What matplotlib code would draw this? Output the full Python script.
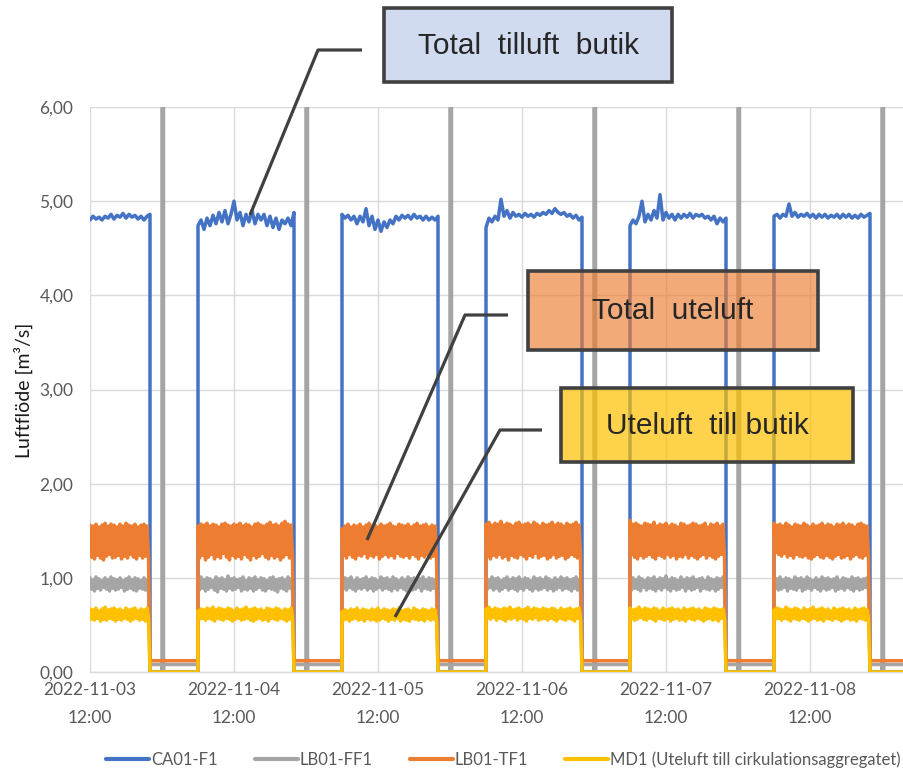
import matplotlib
matplotlib.use("Agg")
import matplotlib.pyplot as plt
import matplotlib.dates as mdates
from matplotlib.patches import Rectangle
from matplotlib.lines import Line2D
from matplotlib.colors import to_rgba
from matplotlib.ticker import FuncFormatter
import pandas as pd

# ---------------------------------------------------------------- data
# Operating periods: the record starts 2022-11-03 12:00, then 06:00-22:00 every day
DAY_STARTS = ["2022-11-03 12:00", "2022-11-04 06:00", "2022-11-05 06:00",
              "2022-11-06 06:00", "2022-11-07 06:00", "2022-11-08 06:00"]
DAY_STOP_HOUR = 22
RECORD_END = "2022-11-09 03:40"
SAMPLE_MINUTES = 30

SERIES_NAMES = ["CA01-F1", "LB01-FF1", "LB01-TF1",
                "MD1 (Uteluft till cirkulationsaggregatet)"]

# CA01-F1 – total tilluft butik [m3/s], one reading every 30 min (06:00..22:00)
ca01_f1 = [
    [4.80, 4.84, 4.81, 4.83, 4.80, 4.84, 4.82, 4.86, 4.81, 4.85, 4.83, 4.87, 4.82, 4.86,
     4.83, 4.85, 4.81, 4.84, 4.80, 4.84, 4.86],
    [4.74, 4.80, 4.70, 4.82, 4.74, 4.85, 4.76, 4.88, 4.78, 4.90, 4.76, 4.86, 5.00, 4.80,
     4.88, 4.74, 4.86, 4.78, 4.90, 4.76, 4.86, 4.80, 4.86, 4.74, 4.84, 4.72, 4.82, 4.70,
     4.80, 4.76, 4.82, 4.74, 4.88],
    [4.86, 4.82, 4.85, 4.80, 4.84, 4.76, 4.84, 4.78, 4.92, 4.74, 4.84, 4.70, 4.80, 4.68,
     4.78, 4.72, 4.80, 4.76, 4.84, 4.80, 4.85, 4.82, 4.85, 4.81, 4.86, 4.82, 4.84, 4.80,
     4.84, 4.80, 4.83, 4.80, 4.84],
    [4.72, 4.82, 4.78, 4.84, 4.80, 5.02, 4.84, 4.90, 4.82, 4.88, 4.84, 4.86, 4.83, 4.87,
     4.84, 4.86, 4.83, 4.87, 4.85, 4.88, 4.86, 4.90, 4.87, 4.92, 4.88, 4.86, 4.88, 4.84,
     4.86, 4.82, 4.85, 4.80, 4.83],
    [4.74, 4.80, 4.76, 4.84, 5.00, 4.78, 4.86, 4.80, 4.90, 4.82, 5.07, 4.80, 4.88, 4.82,
     4.86, 4.80, 4.86, 4.82, 4.86, 4.83, 4.87, 4.82, 4.86, 4.84, 4.86, 4.82, 4.84, 4.80,
     4.84, 4.76, 4.82, 4.78, 4.82],
    [4.84, 4.86, 4.82, 4.86, 4.84, 4.97, 4.84, 4.88, 4.83, 4.86, 4.84, 4.87, 4.83, 4.86,
     4.82, 4.86, 4.83, 4.86, 4.82, 4.85, 4.83, 4.86, 4.82, 4.86, 4.83, 4.86, 4.82, 4.85,
     4.82, 4.86, 4.83, 4.85, 4.87],
]

# The other three flows fluctuate fast: highest and lowest reading per 30-min window.
# LB01-FF1 [m3/s]
lb01_ff1_high = [
    [1.00, 0.98, 1.01, 0.99, 0.97, 1.00, 0.98, 1.01, 0.99, 0.98, 1.00, 0.97, 0.99, 1.01,
     0.98, 1.00, 0.99, 0.97, 1.00, 0.98],
    [0.99, 1.01, 0.98, 1.00, 0.99, 0.97, 1.01, 0.99, 1.00, 0.98, 1.02, 0.99, 1.00, 0.98,
     0.99, 1.01, 0.97, 1.00, 0.99, 1.01, 0.98, 1.00, 0.99, 0.97, 1.00, 1.01, 0.98, 0.99,
     1.00, 0.98, 1.01, 0.99],
    [0.98, 1.00, 0.99, 1.01, 0.97, 1.00, 0.98, 0.99, 1.01, 0.98, 1.00, 0.99, 0.97, 1.01,
     0.99, 1.00, 0.98, 1.01, 0.99, 0.97, 1.00, 0.98, 1.01, 0.99, 1.00, 0.98, 0.99, 1.01,
     0.98, 1.00, 0.99, 0.98],
    [1.00, 0.98, 1.01, 0.99, 1.00, 0.97, 0.99, 1.01, 0.98, 1.00, 0.99, 1.01, 0.98, 1.00,
     0.99, 0.97, 1.01, 0.99, 1.00, 0.98, 1.01, 0.99, 0.97, 1.00, 0.98, 1.01, 0.99, 1.00,
     0.98, 0.99, 1.01, 0.98],
    [0.99, 1.00, 0.98, 1.01, 0.99, 0.97, 1.00, 0.99, 1.01, 0.98, 1.00, 0.99, 1.02, 0.98,
     1.00, 0.99, 0.97, 1.01, 0.98, 1.00, 0.99, 1.01, 0.98, 0.99, 1.00, 0.97, 1.01, 0.99,
     0.98, 1.00, 0.99, 1.01],
    [1.00, 0.99, 1.01, 0.98, 1.00, 0.99, 0.97, 1.01, 0.99, 1.00, 0.98, 1.01, 0.99, 0.97,
     1.00, 0.98, 1.01, 0.99, 1.00, 0.98, 0.99, 1.01, 0.97, 1.00, 0.99, 0.98, 1.01, 0.99,
     1.00, 0.98, 0.99, 1.00],
]
lb01_ff1_low = [
    [0.88, 0.86, 0.89, 0.87, 0.90, 0.88, 0.86, 0.89, 0.87, 0.88, 0.90, 0.86, 0.88, 0.89,
     0.87, 0.86, 0.89, 0.88, 0.87, 0.90],
    [0.87, 0.89, 0.86, 0.88, 0.90, 0.87, 0.85, 0.89, 0.88, 0.86, 0.89, 0.87, 0.88, 0.90,
     0.86, 0.88, 0.87, 0.89, 0.86, 0.88, 0.90, 0.87, 0.86, 0.89, 0.88, 0.87, 0.85, 0.89,
     0.88, 0.86, 0.89, 0.87],
    [0.89, 0.87, 0.90, 0.88, 0.86, 0.89, 0.88, 0.90, 0.87, 0.89, 0.86, 0.88, 0.90, 0.87,
     0.89, 0.88, 0.86, 0.89, 0.87, 0.90, 0.88, 0.86, 0.89, 0.87, 0.88, 0.90, 0.86, 0.89,
     0.88, 0.87, 0.89, 0.88],
    [0.88, 0.90, 0.87, 0.89, 0.86, 0.88, 0.90, 0.87, 0.89, 0.88, 0.86, 0.89, 0.87, 0.90,
     0.88, 0.86, 0.89, 0.87, 0.88, 0.90, 0.87, 0.89, 0.86, 0.88, 0.90, 0.87, 0.89, 0.88,
     0.86, 0.89, 0.87, 0.88],
    [0.87, 0.89, 0.88, 0.86, 0.90, 0.87, 0.89, 0.88, 0.86, 0.89, 0.87, 0.90, 0.88, 0.86,
     0.89, 0.87, 0.88, 0.90, 0.86, 0.89, 0.87, 0.88, 0.90, 0.86, 0.89, 0.88, 0.87, 0.89,
     0.86, 0.88, 0.90, 0.87],
    [0.89, 0.87, 0.88, 0.90, 0.86, 0.89, 0.88, 0.87, 0.90, 0.86, 0.88, 0.89, 0.87, 0.90,
     0.88, 0.86, 0.89, 0.87, 0.88, 0.90, 0.86, 0.88, 0.89, 0.87, 0.90, 0.88, 0.86, 0.89,
     0.87, 0.88, 0.90, 0.87],
]

# LB01-TF1 – total uteluft [m3/s]
lb01_tf1_high = [
    [1.56, 1.55, 1.57, 1.54, 1.56, 1.58, 1.55, 1.57, 1.56, 1.54, 1.57, 1.55, 1.58, 1.56,
     1.55, 1.57, 1.54, 1.56, 1.57, 1.55],
    [1.55, 1.57, 1.56, 1.58, 1.55, 1.57, 1.56, 1.54, 1.57, 1.58, 1.56, 1.55, 1.57, 1.56,
     1.58, 1.55, 1.57, 1.56, 1.54, 1.57, 1.58, 1.56, 1.55, 1.57, 1.59, 1.56, 1.57, 1.55,
     1.58, 1.60, 1.57, 1.56],
    [1.52, 1.55, 1.57, 1.54, 1.56, 1.55, 1.57, 1.54, 1.56, 1.58, 1.55, 1.56, 1.54, 1.57,
     1.55, 1.56, 1.58, 1.55, 1.54, 1.57, 1.56, 1.55, 1.57, 1.54, 1.56, 1.58, 1.55, 1.56,
     1.57, 1.54, 1.56, 1.55],
    [1.57, 1.59, 1.56, 1.58, 1.57, 1.60, 1.56, 1.58, 1.57, 1.55, 1.58, 1.59, 1.56, 1.57,
     1.58, 1.56, 1.59, 1.57, 1.55, 1.58, 1.56, 1.57, 1.59, 1.56, 1.58, 1.57, 1.55, 1.58,
     1.56, 1.57, 1.59, 1.56],
    [1.61, 1.57, 1.58, 1.56, 1.55, 1.58, 1.57, 1.56, 1.59, 1.55, 1.57, 1.56, 1.58, 1.55,
     1.57, 1.56, 1.54, 1.58, 1.57, 1.55, 1.56, 1.58, 1.57, 1.55, 1.56, 1.58, 1.54, 1.57,
     1.56, 1.58, 1.55, 1.57],
    [1.58, 1.56, 1.57, 1.55, 1.58, 1.56, 1.54, 1.57, 1.56, 1.55, 1.58, 1.56, 1.54, 1.57,
     1.55, 1.56, 1.58, 1.55, 1.57, 1.56, 1.54, 1.57, 1.56, 1.58, 1.55, 1.57, 1.56, 1.54,
     1.57, 1.58, 1.56, 1.55],
]
lb01_tf1_low = [
    [1.22, 1.20, 1.24, 1.21, 1.19, 1.23, 1.25, 1.21, 1.22, 1.24, 1.20, 1.23, 1.21, 1.25,
     1.22, 1.20, 1.24, 1.21, 1.23, 1.22],
    [1.21, 1.24, 1.19, 1.22, 1.25, 1.20, 1.23, 1.21, 1.26, 1.22, 1.19, 1.24, 1.21, 1.23,
     1.20, 1.25, 1.22, 1.19, 1.24, 1.21, 1.23, 1.26, 1.22, 1.20, 1.24, 1.21, 1.23, 1.19,
     1.22, 1.25, 1.21, 1.23],
    [1.24, 1.21, 1.25, 1.22, 1.20, 1.24, 1.23, 1.26, 1.21, 1.24, 1.22, 1.25, 1.20, 1.23,
     1.25, 1.22, 1.24, 1.21, 1.26, 1.23, 1.22, 1.24, 1.21, 1.25, 1.23, 1.20, 1.24, 1.22,
     1.25, 1.21, 1.23, 1.24],
    [1.23, 1.20, 1.24, 1.22, 1.25, 1.21, 1.23, 1.19, 1.24, 1.22, 1.21, 1.25, 1.23, 1.20,
     1.24, 1.22, 1.26, 1.21, 1.23, 1.24, 1.20, 1.22, 1.25, 1.21, 1.23, 1.24, 1.20, 1.22,
     1.25, 1.23, 1.21, 1.24],
    [1.25, 1.22, 1.20, 1.24, 1.21, 1.23, 1.25, 1.22, 1.20, 1.24, 1.23, 1.21, 1.25, 1.22,
     1.24, 1.20, 1.23, 1.22, 1.25, 1.21, 1.24, 1.22, 1.20, 1.23, 1.25, 1.21, 1.24, 1.22,
     1.20, 1.23, 1.25, 1.22],
    [1.27, 1.25, 1.23, 1.26, 1.22, 1.24, 1.21, 1.25, 1.23, 1.22, 1.24, 1.21, 1.20, 1.23,
     1.25, 1.22, 1.21, 1.24, 1.22, 1.20, 1.23, 1.25, 1.21, 1.22, 1.24, 1.20, 1.23, 1.25,
     1.22, 1.21, 1.24, 1.23],
]

# MD1 – uteluft till butik [m3/s]
md1_high = [
    [0.67, 0.66, 0.68, 0.65, 0.67, 0.69, 0.66, 0.67, 0.68, 0.66, 0.67, 0.65, 0.68, 0.66,
     0.67, 0.68, 0.65, 0.67, 0.66, 0.68],
    [0.65, 0.67, 0.66, 0.68, 0.67, 0.69, 0.66, 0.68, 0.67, 0.66, 0.68, 0.67, 0.65, 0.68,
     0.66, 0.67, 0.69, 0.66, 0.67, 0.68, 0.66, 0.67, 0.65, 0.68, 0.67, 0.66, 0.68, 0.67,
     0.65, 0.67, 0.66, 0.68],
    [0.64, 0.66, 0.65, 0.67, 0.66, 0.68, 0.65, 0.67, 0.66, 0.65, 0.67, 0.66, 0.68, 0.65,
     0.67, 0.66, 0.65, 0.67, 0.66, 0.68, 0.65, 0.66, 0.67, 0.65, 0.68, 0.66, 0.65, 0.67,
     0.66, 0.65, 0.67, 0.66],
    [0.67, 0.69, 0.66, 0.68, 0.67, 0.66, 0.68, 0.67, 0.69, 0.66, 0.67, 0.68, 0.66, 0.67,
     0.69, 0.66, 0.68, 0.67, 0.66, 0.68, 0.67, 0.66, 0.68, 0.67, 0.65, 0.68, 0.66, 0.67,
     0.68, 0.66, 0.67, 0.68],
    [0.68, 0.66, 0.67, 0.69, 0.66, 0.68, 0.67, 0.66, 0.68, 0.67, 0.65, 0.68, 0.66, 0.67,
     0.68, 0.66, 0.67, 0.65, 0.68, 0.66, 0.67, 0.68, 0.66, 0.67, 0.65, 0.68, 0.67, 0.66,
     0.68, 0.67, 0.66, 0.67],
    [0.66, 0.68, 0.67, 0.66, 0.69, 0.67, 0.66, 0.68, 0.67, 0.65, 0.68, 0.66, 0.67, 0.69,
     0.66, 0.67, 0.68, 0.66, 0.67, 0.65, 0.68, 0.66, 0.67, 0.68, 0.66, 0.67, 0.65, 0.68,
     0.66, 0.67, 0.68, 0.66],
]
md1_low = [
    [0.56, 0.55, 0.57, 0.54, 0.56, 0.55, 0.57, 0.56, 0.54, 0.56, 0.55, 0.57, 0.56, 0.54,
     0.56, 0.57, 0.55, 0.56, 0.54, 0.56],
    [0.56, 0.57, 0.55, 0.57, 0.56, 0.54, 0.57, 0.56, 0.55, 0.57, 0.56, 0.54, 0.56, 0.57,
     0.55, 0.56, 0.57, 0.55, 0.54, 0.56, 0.57, 0.55, 0.56, 0.54, 0.57, 0.56, 0.55, 0.57,
     0.56, 0.54, 0.56, 0.57],
    [0.55, 0.56, 0.54, 0.56, 0.57, 0.55, 0.56, 0.54, 0.57, 0.55, 0.56, 0.54, 0.55, 0.57,
     0.56, 0.54, 0.56, 0.55, 0.57, 0.54, 0.56, 0.55, 0.54, 0.57, 0.56, 0.55, 0.56, 0.54,
     0.57, 0.55, 0.56, 0.55],
    [0.57, 0.56, 0.58, 0.55, 0.57, 0.56, 0.54, 0.57, 0.56, 0.58, 0.55, 0.57, 0.56, 0.54,
     0.57, 0.56, 0.58, 0.55, 0.56, 0.57, 0.55, 0.57, 0.56, 0.54, 0.57, 0.56, 0.55, 0.57,
     0.56, 0.54, 0.57, 0.56],
    [0.57, 0.55, 0.56, 0.58, 0.56, 0.55, 0.57, 0.56, 0.54, 0.57, 0.56, 0.55, 0.57, 0.54,
     0.56, 0.57, 0.55, 0.56, 0.54, 0.57, 0.56, 0.55, 0.57, 0.56, 0.54, 0.56, 0.57, 0.55,
     0.56, 0.54, 0.57, 0.56],
    [0.56, 0.57, 0.55, 0.57, 0.56, 0.54, 0.57, 0.56, 0.55, 0.57, 0.56, 0.54, 0.56, 0.57,
     0.55, 0.56, 0.54, 0.57, 0.56, 0.55, 0.57, 0.56, 0.54, 0.56, 0.57, 0.55, 0.56, 0.54,
     0.57, 0.56, 0.55, 0.57],
]

# Levels while the units are stopped at night
OFF_LEVELS = [0.0, 0.08, 0.12, 0.0]
# LB01-FF1 registers an off-scale reading just after midnight each night
FF1_MIDNIGHT_READING = 8.0
FF1_MIDNIGHT_MINUTES = 15

X_TICKS = ["2022-11-03 12:00", "2022-11-04 12:00", "2022-11-05 12:00",
           "2022-11-06 12:00", "2022-11-07 12:00", "2022-11-08 12:00"]
Y_TICKS = [0, 1, 2, 3, 4, 5, 6]

COLORS = ["#4472C4", "#A5A5A5", "#ED7D31", "#FFC000"]

# ---------------------------------------------------------------- series assembly
starts = [pd.Timestamp(s) for s in DAY_STARTS]
record_end = pd.Timestamp(RECORD_END)
step = pd.Timedelta(minutes=SAMPLE_MINUTES)
half = step / 2


def day_points_sampled(start, vals):
    pts = [(start + k * step, v) for k, v in enumerate(vals)]
    return pts, pts[-1][0]


def day_points_windows(start, highs, lows):
    pts = []
    for k, (hi, lo) in enumerate(zip(highs, lows)):
        pts.append((start + k * step, hi))
        pts.append((start + k * step + half, lo))
    return pts, start + len(highs) * step


def build_series(day_point_lists, off_level, midnight_reading=None):
    times, values = [], []
    for i, (pts, stop) in enumerate(day_point_lists):
        assert stop.hour == DAY_STOP_HOUR and stop.minute == 0, (i, stop)
        times += [p[0] for p in pts]
        values += [p[1] for p in pts]
        times.append(stop)
        values.append(off_level)
        if midnight_reading is not None:
            mid = stop.normalize() + pd.Timedelta(days=1)
            dt = pd.Timedelta(minutes=FF1_MIDNIGHT_MINUTES)
            for t, v in [(mid, off_level), (mid, 0.0), (mid, midnight_reading),
                         (mid + dt, midnight_reading), (mid + dt, 0.0),
                         (mid + dt, off_level)]:
                times.append(t)
                values.append(v)
        next_on = starts[i + 1] if i + 1 < len(starts) else record_end
        times.append(next_on)
        values.append(off_level)
    return times, values


series_days = [
    [day_points_sampled(s, v) for s, v in zip(starts, ca01_f1)],
    [day_points_windows(s, h, l) for s, h, l in zip(starts, lb01_ff1_high, lb01_ff1_low)],
    [day_points_windows(s, h, l) for s, h, l in zip(starts, lb01_tf1_high, lb01_tf1_low)],
    [day_points_windows(s, h, l) for s, h, l in zip(starts, md1_high, md1_low)],
]
midnight = [None, FF1_MIDNIGHT_READING, None, None]

# ---------------------------------------------------------------- figure
W, H = 904, 775
fig = plt.figure(figsize=(W / 100, H / 100), dpi=100)
fig.patch.set_facecolor("white")

AX_L, AX_R, AX_T, AX_B = 90, 904, 107, 672
ax = fig.add_axes([AX_L / W, 1 - AX_B / H, (AX_R - AX_L) / W, (AX_B - AX_T) / H])

TICK_FONT = ["Lato", "DejaVu Sans"]
LABEL_COLOR = "#595959"

handles = []
for k, (days, off, mid, color) in enumerate(zip(series_days, OFF_LEVELS, midnight, COLORS)):
    t, v = build_series(days, off, mid)
    ax.plot(t, v, color=color, lw=2.5, zorder=3 + k,
            solid_joinstyle="round", solid_capstyle="round")
    handles.append(Line2D([], [], color=color, lw=3.0, solid_capstyle="round"))

ax.set_xlim(pd.Timestamp(X_TICKS[0]), record_end)
ax.set_ylim(Y_TICKS[0], Y_TICKS[-1])

ax.set_xticks([pd.Timestamp(s) for s in X_TICKS])
ax.xaxis.set_major_formatter(mdates.DateFormatter("%Y-%m-%d\n%H:%M"))
ax.set_yticks(Y_TICKS)
ax.yaxis.set_major_formatter(FuncFormatter(lambda v, p: f"{v:.2f}".replace(".", ",")))

ax.grid(True, color="#D9D9D9", lw=1.0, zorder=0)
ax.set_axisbelow(True)
for side in ["top", "right", "left"]:
    ax.spines[side].set_visible(False)
ax.spines["bottom"].set_color("#D9D9D9")
ax.spines["bottom"].set_linewidth(1.0)

ax.tick_params(axis="both", length=0, labelsize=12.5, labelcolor=LABEL_COLOR)
ax.tick_params(axis="x", pad=7)
ax.tick_params(axis="y", pad=12)
for lab in ax.get_xticklabels() + ax.get_yticklabels():
    lab.set_family(TICK_FONT)
for lab in ax.get_xticklabels():
    lab.set_linespacing(1.95)

fig.text(23 / W, 1 - 390 / H, "Luftflöde [m³/s]", rotation=90, ha="center",
         va="center", fontsize=14, family=TICK_FONT, color="#1A1A1A")

fig.legend(handles, SERIES_NAMES, loc="center left", bbox_to_anchor=(106 / W, 1 - 760 / H),
           ncol=4, frameon=False, borderpad=0, borderaxespad=0, handlelength=2.6,
           handletextpad=0.12, columnspacing=2.2, prop={"family": TICK_FONT, "size": 12},
           labelcolor=LABEL_COLOR)

# ---------------------------------------------------------------- callout boxes


def fx(x):
    return x / W


def fy(y):
    return 1 - y / H


BOX_FONT, BOX_SIZE = ["Liberation Sans", "DejaVu Sans"], 21.5
EDGE = "#404040"
callouts = [
    # (text, box x0, y0, x1, y1, face, alpha, leader polyline)
    ("Total  tilluft  butik", 384, 8, 672, 82, "#4472C4", 0.25,
     [(362, 50), (318, 50), (250, 215)]),
    ("Total  uteluft", 528, 271, 818, 350, "#ED7D31", 0.65,
     [(508, 315), (465, 315), (367, 540)]),
    ("Uteluft  till butik", 561, 388, 853, 462, "#FFC000", 0.70,
     [(542, 430), (500, 430), (395, 617)]),
]
for text, x0, y0, x1, y1, face, alpha, leader in callouts:
    xs = [fx(p[0]) for p in leader]
    ys = [fy(p[1]) for p in leader]
    fig.add_artist(Line2D(xs, ys, transform=fig.transFigure, color=EDGE, lw=2.3,
                          zorder=20, solid_capstyle="butt"))
    fig.add_artist(Rectangle((fx(x0), fy(y1)), fx(x1) - fx(x0), fy(y0) - fy(y1),
                             transform=fig.transFigure, facecolor=to_rgba(face, alpha),
                             edgecolor=EDGE, lw=2.6, zorder=21))
    fig.text(fx((x0 + x1) / 2), fy((y0 + y1) / 2 + 1), text, ha="center", va="center",
             fontsize=BOX_SIZE, family=BOX_FONT, color="#262626", zorder=22)

fig.savefig("out.png", dpi=100)
